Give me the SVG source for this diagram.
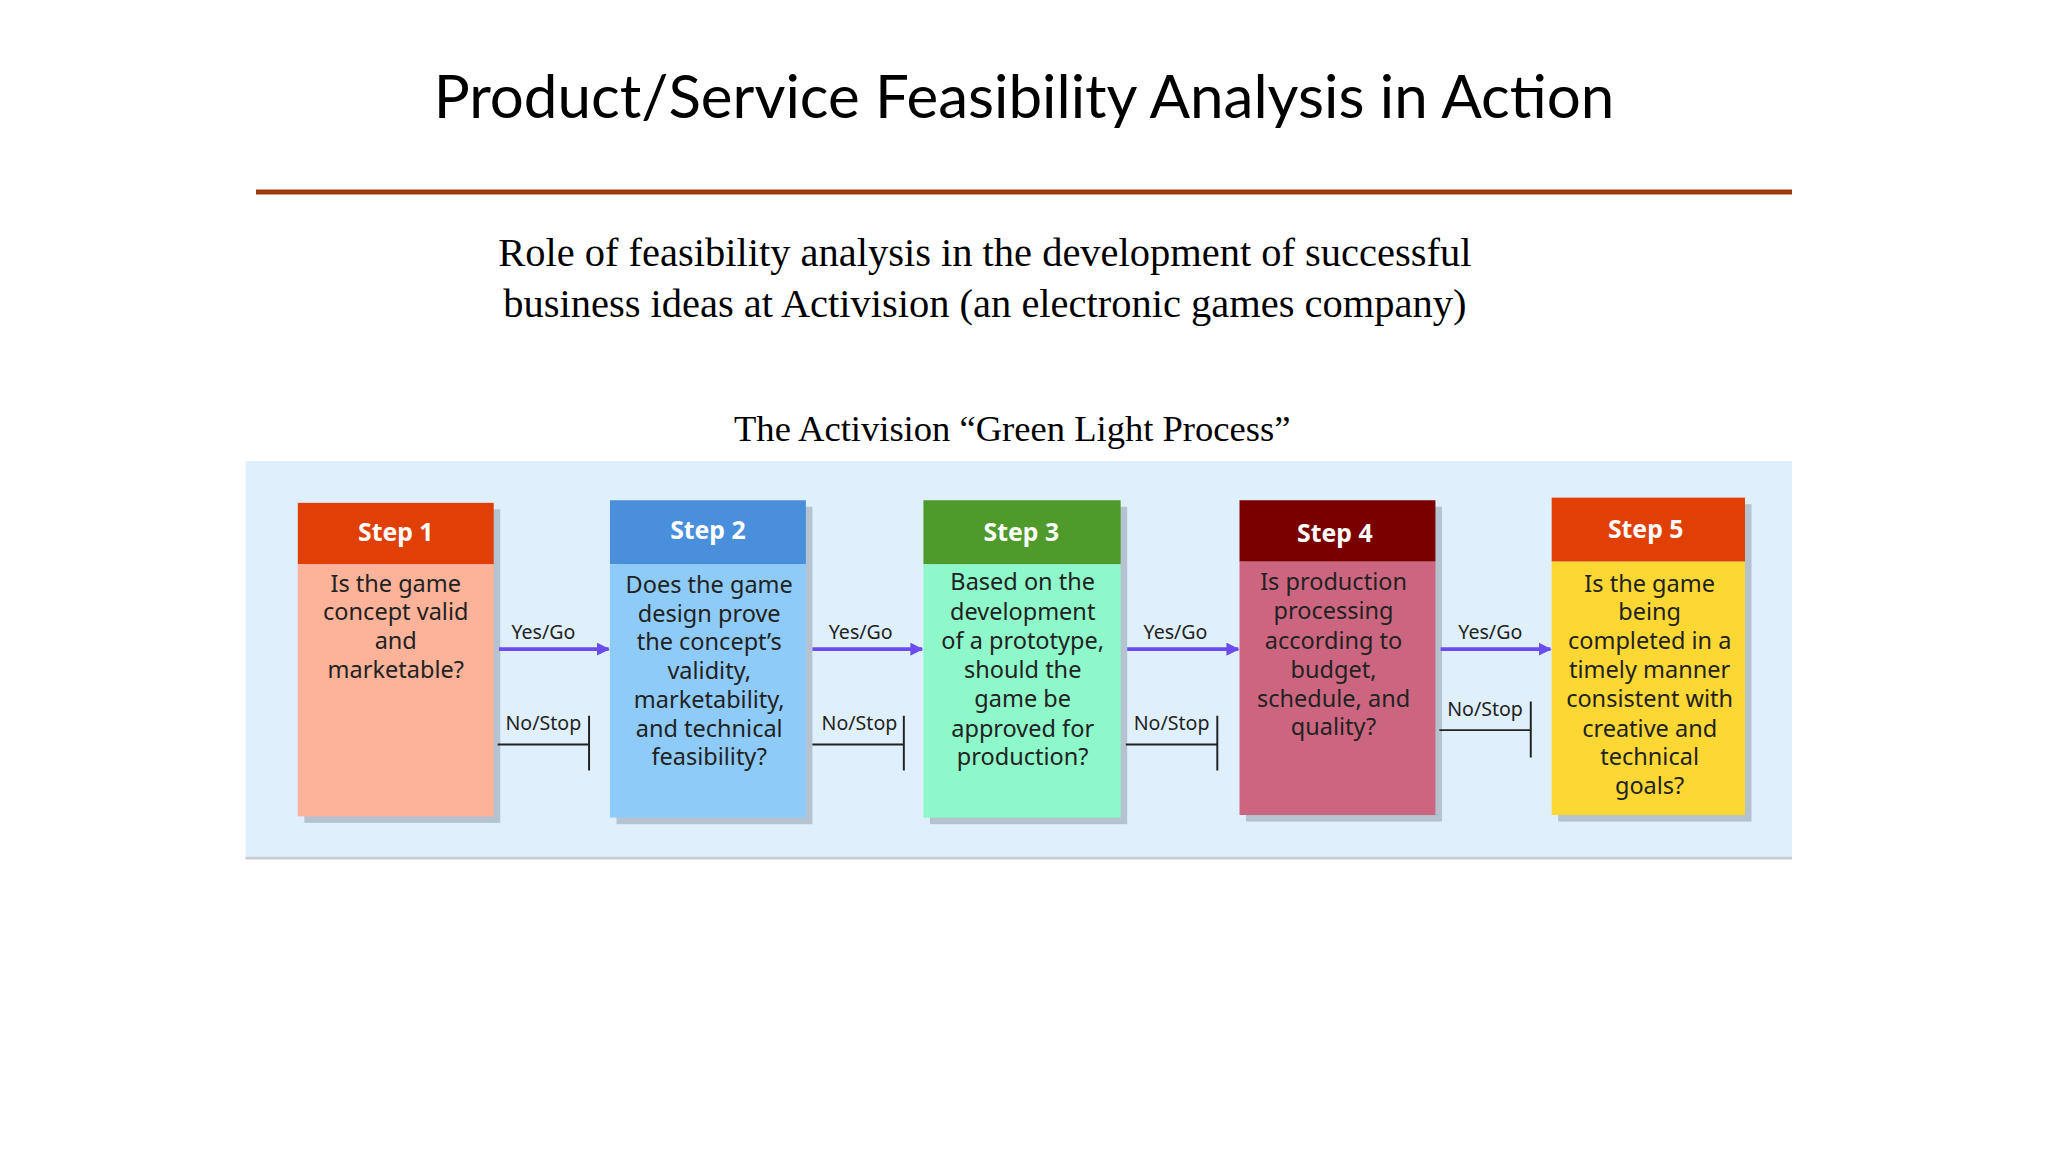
<svg xmlns="http://www.w3.org/2000/svg" width="2048" height="1152" viewBox="0 0 2048 1152">
<defs>
<style>
.t{font-family:Lato,"Noto Sans",sans-serif;fill:#000}
.s{font-family:"Liberation Serif",serif;fill:#000}
.h{font-family:"Noto Sans",sans-serif;font-weight:bold;font-size:19px;fill:#fff;text-anchor:middle}
.b{font-family:"Noto Sans",sans-serif;font-size:18px;fill:#222;text-anchor:middle}
.l{font-family:"Noto Sans",sans-serif;font-size:15px;fill:#222;text-anchor:middle}
.sh{fill:#9aa4b0;opacity:.6}
.y{stroke:#6b4cf0;stroke-width:3;fill:none;marker-end:url(#a)}
.n{stroke:#222;stroke-width:1.5;fill:none}
</style>
<marker id="a" markerWidth="10" markerHeight="10" refX="9" refY="5" orient="auto" markerUnits="userSpaceOnUse"><path d="M0,0 L10,5 L0,10 z" fill="#6b4cf0"/></marker>
</defs>
<rect width="2048" height="1152" fill="#fff"/>
<g transform="scale(1.30612)">
<text class="t" x="784" y="90" font-size="46" text-anchor="middle">Product/Service Feasibility Analysis in Action</text>
<line x1="196" y1="147" x2="1372" y2="147" stroke="#9c3a10" stroke-width="4"/>
<text class="s" x="754" y="204" font-size="31" text-anchor="middle">Role of feasibility analysis in the development of successful</text>
<text class="s" x="754" y="243" font-size="31" text-anchor="middle">business ideas at Activision (an electronic games company)</text>
<text class="s" x="775" y="338" font-size="28" text-anchor="middle">The Activision “Green Light Process”</text>
<rect x="188" y="353" width="1184" height="304" fill="#dfeffc"/>
<line x1="188" y1="657" x2="1372" y2="657" stroke="#c8ccd2" stroke-width="2"/>
<g id="step1"><rect class="sh" x="233" y="390" width="150" height="240"/><rect x="228" y="385" width="150" height="47" fill="#e04006"/><rect x="228" y="432" width="150" height="193" fill="#fdb29a"/>
<text class="h" x="303" y="414">Step 1</text>
<text class="b" x="303" y="453">Is the game</text><text class="b" x="303" y="475">concept valid</text><text class="b" x="303" y="497">and</text><text class="b" x="303" y="519">marketable?</text></g>
<g id="step2"><rect class="sh" x="472" y="388" width="150" height="243"/><rect x="467" y="383" width="150" height="49" fill="#4a8fdc"/><rect x="467" y="432" width="150" height="194" fill="#8fcbf9"/>
<text class="h" x="542" y="413">Step 2</text>
<text class="b" x="543" y="454">Does the game</text><text class="b" x="543" y="476">design prove</text><text class="b" x="543" y="498">the concept’s</text><text class="b" x="543" y="520">validity,</text><text class="b" x="543" y="542">marketability,</text><text class="b" x="543" y="564">and technical</text><text class="b" x="543" y="586">feasibility?</text></g>
<g id="step3"><rect class="sh" x="712" y="388" width="151" height="243"/><rect x="707" y="383" width="151" height="49" fill="#4e9a2a"/><rect x="707" y="432" width="151" height="194" fill="#8ef8ca"/>
<text class="h" x="782" y="414">Step 3</text>
<text class="b" x="783" y="452">Based on the</text><text class="b" x="783" y="475">development</text><text class="b" x="783" y="497">of a prototype,</text><text class="b" x="783" y="519">should the</text><text class="b" x="783" y="541">game be</text><text class="b" x="783" y="564">approved for</text><text class="b" x="783" y="586">production?</text></g>
<g id="step4"><rect class="sh" x="954" y="388" width="150" height="241"/><rect x="949" y="383" width="150" height="47" fill="#7a0000"/><rect x="949" y="430" width="150" height="194" fill="#cc6680"/>
<text class="h" x="1022" y="415">Step 4</text>
<text class="b" x="1021" y="452">Is production</text><text class="b" x="1021" y="474">processing</text><text class="b" x="1021" y="497">according to</text><text class="b" x="1021" y="519">budget,</text><text class="b" x="1021" y="541">schedule, and</text><text class="b" x="1021" y="563">quality?</text></g>
<g id="step5"><rect class="sh" x="1193" y="386" width="148" height="243"/><rect x="1188" y="381" width="148" height="49" fill="#e04006"/><rect x="1188" y="430" width="148" height="194" fill="#fdd835"/>
<text class="h" x="1260" y="412">Step 5</text>
<text class="b" x="1263" y="453">Is the game</text><text class="b" x="1263" y="475">being</text><text class="b" x="1263" y="497">completed in a</text><text class="b" x="1263" y="519">timely manner</text><text class="b" x="1263" y="541">consistent with</text><text class="b" x="1263" y="564">creative and</text><text class="b" x="1263" y="586">technical</text><text class="b" x="1263" y="608">goals?</text></g>
<g id="connectors">
<path class="y" d="M382,497 H466"/><path class="y" d="M622,497 H706"/><path class="y" d="M863,497 H948"/><path class="y" d="M1103,497 H1187"/>
<path class="n" d="M381,570 H451 M451,548 V590"/><path class="n" d="M622,570 H692 M692,548 V590"/><path class="n" d="M862,570 H932 M932,548 V590"/><path class="n" d="M1102,559 H1172 M1172,537 V580"/>
<text class="l" x="416" y="489">Yes/Go</text><text class="l" x="659" y="489">Yes/Go</text><text class="l" x="900" y="489">Yes/Go</text><text class="l" x="1141" y="489">Yes/Go</text>
<text class="l" x="416" y="559">No/Stop</text><text class="l" x="658" y="559">No/Stop</text><text class="l" x="897" y="559">No/Stop</text><text class="l" x="1137" y="548">No/Stop</text>
</g>
</g>
</svg>
